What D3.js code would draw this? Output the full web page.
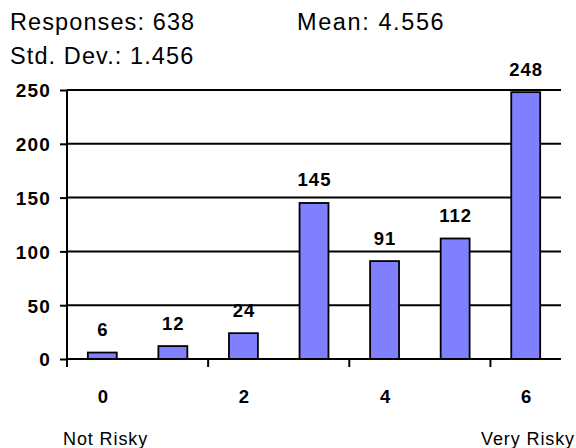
<!DOCTYPE html>
<html><head><meta charset="utf-8">
<script src="https://cdn.jsdelivr.net/npm/d3@7"></script>
<style>body{margin:0;background:#fff}svg{display:block}</style>
</head><body>
<svg id="c" width="576" height="448"></svg>
<script>
const categories = [0,1,2,3,4,5,6];
const counts = [6,12,24,145,91,112,248];
const yTicks = [0,50,100,150,200,250];
const xTickLabels = ["0","2","4","6"];
const headerTexts = ["Responses: 638","Mean: 4.556","Std. Dev.: 1.456"];
const endLabels = ["Not Risky","Very Risky"];

(function(){
const svg = d3.select("#c");
const pL = 67, pR = 561, pT = 90, pB = 359;
const x = d3.scaleBand().domain(categories).range([pL, pR]).paddingInner(0.59).paddingOuter(0.295);
const xb = d3.scaleBand().domain(categories).range([pL, pR]);
const y = d3.scaleLinear().domain([0,250]).range([pB, pT]);
const font = "'Liberation Sans', Arial, sans-serif";

// header
const hdr = (t,xx,yy,ls)=>svg.append("text").attr("x",xx).attr("y",yy).attr("font-family",font)
  .attr("font-size",23.5).attr("letter-spacing",ls).attr("fill","#000").text(t);
hdr(headerTexts[0],10,30,1.1);
hdr(headerTexts[1],297,30,1.6);
hdr(headerTexts[2],10,64,1.1);

// gridlines
svg.append("g").selectAll("line").data(yTicks.filter(d=>d>0)).join("line")
  .attr("x1",pL).attr("x2",pR).attr("y1",d=>y(d)).attr("y2",d=>y(d))
  .attr("stroke","#000").attr("stroke-width",2);

// y axis
const yAxis = svg.append("g").attr("transform",`translate(${pL},0)`)
  .call(d3.axisLeft(y).tickValues(yTicks).tickSize(7).tickPadding(9));
yAxis.select(".domain").attr("stroke-width",2).attr("d",`M0,${pT}V${pB+8}`);
yAxis.selectAll(".tick line").attr("stroke-width",2);
yAxis.selectAll("text").attr("font-family",font).attr("font-size",19).attr("font-weight","bold")
  .attr("letter-spacing",1.2).attr("fill","#000").attr("dy","0.36em");

// bars
svg.append("g").selectAll("rect").data(categories).join("rect")
  .attr("x",d=>x(d)).attr("width",x.bandwidth())
  .attr("y",(d,i)=>y(counts[i])).attr("height",(d,i)=>y(0)-y(counts[i]))
  .attr("fill","#8080ff").attr("stroke","#000").attr("stroke-width",1.8);

// value labels
svg.append("g").selectAll("text").data(categories).join("text")
  .attr("x",d=>x(d)+x.bandwidth()/2+0.5).attr("y",(d,i)=>y(counts[i])-16.5)
  .attr("text-anchor","middle").attr("font-family",font).attr("font-size",18.5).attr("font-weight","bold")
  .attr("letter-spacing",1)
  .text((d,i)=>counts[i]);

// x axis
const xg = svg.append("g").attr("transform",`translate(0,${pB})`);
xg.append("line").attr("x1",pL).attr("x2",pR).attr("stroke","#000").attr("stroke-width",2);
const tickPos = [0,2,4,6].map(i=>xb(categories[i]));
xg.selectAll("line.t").data(tickPos).join("line").attr("class","t")
  .attr("x1",d=>d).attr("x2",d=>d).attr("y1",0).attr("y2",8).attr("stroke","#000").attr("stroke-width",2);
xg.selectAll("text.l").data(xTickLabels).join("text").attr("class","l")
  .attr("x",d=>xb(+d)+xb.bandwidth()/2+0.5).attr("y",44)
  .attr("text-anchor","middle").attr("font-family",font).attr("font-size",18.5).attr("font-weight","bold").text(d=>d);

// end labels
svg.append("text").attr("x",63).attr("y",445).attr("font-family",font).attr("font-size",18)
  .attr("letter-spacing",0.9).text(endLabels[0]);
svg.append("text").attr("x",575).attr("y",445).attr("text-anchor","end").attr("font-family",font).attr("font-size",18)
  .attr("letter-spacing",0.9).text(endLabels[1]);
})();
</script>
</body></html>
